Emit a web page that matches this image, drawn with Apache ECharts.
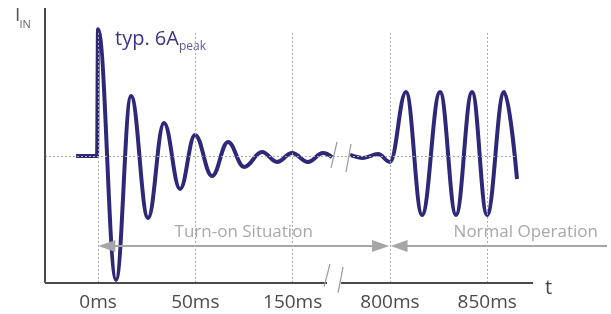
<!DOCTYPE html>
<html>
<head>
<meta charset="utf-8">
<script src="https://cdn.jsdelivr.net/npm/echarts@6/dist/echarts.min.js"></script>
<style>
  html, body { margin: 0; padding: 0; background: #fff; }
  #chart { width: 611px; height: 314px; }
</style>
</head>
<body>
<div id="chart"></div>
<script>
// x: one step per grid line (0ms, 50ms, 150ms, 800ms, 850ms), y: current in A
const tickPos = [0, 1, 2, 3, 4]
const tickLabels = ['0ms', '50ms', '150ms', '800ms', '850ms']

const turnOnTime = [-0.226, -0.01, 0, 0.185, 0.339, 0.514, 0.678, 0.843, 0.997, 1.172, 1.336, 1.501, 1.686, 1.840, 1.994, 2.158, 2.312, 2.405]
const turnOnCurrent = [0, 0, 6.0, -5.86, 2.84, -2.93, 1.56, -1.56, 0.99, -0.95, 0.66, -0.52, 0.19, -0.28, 0.14, -0.28, 0.14, -0.05]

const normalTime = [2.590, 2.723, 2.878, 3.001, 3.165, 3.330, 3.515, 3.679, 3.844, 3.998, 4.173, 4.306]
const normalCurrent = [0.05, -0.09, 0.09, -0.28, 3.03, -2.79, 3.03, -2.79, 3.03, -2.79, 3.03, -1.09]

const font = 'Open Sans'
const waveColor = '#2d2878'
const xMin = -0.545, xMax = 5.272
const axisY = -6          // where the time axis sits
const yMin = -7, yMax = 7 // a bit of room below the axis for the break marks

const zip = (xs, ys) => xs.map((x, i) => [x, ys[i]])
const seg = (a, b, extra) => [Object.assign({ coord: a }, extra || {}), { coord: b }]

const chart = echarts.init(document.getElementById('chart'), null, { renderer: 'canvas' })

const helper = (z, markLine) => ({
  type: 'line', data: [], silent: true, clip: false, z,
  markLine: Object.assign({ silent: true, animation: false, symbol: 'none', label: { show: false } }, markLine)
})

const option = {
  animation: false,
  textStyle: { fontFamily: font },
  grid: { left: 45, right: 0, top: 8, bottom: 10, outerBoundsMode: 'none' },
  xAxis: {
    type: 'value', min: xMin, max: xMax, offset: -21.14,
    axisLine: { show: false }, axisTick: { show: false }, splitLine: { show: false },
    axisLabel: {
      customValues: tickPos,
      formatter: (v) => tickLabels[tickPos.indexOf(v)],
      color: '#4a4a4a', fontSize: 19, margin: 10, fontFamily: font
    }
  },
  yAxis: {
    type: 'value', min: yMin, max: yMax,
    axisLine: { show: false }, axisTick: { show: false },
    axisLabel: { show: false }, splitLine: { show: false }
  },
  graphic: [
    { type: 'text', x: 15, y: 15.3, style: { text: 'I', font: '19px "Open Sans"', fill: '#555', verticalAlign: 'middle' } },
    { type: 'text', x: 19.5, y: 24.5, style: { text: 'IN', font: '11px "Open Sans"', fill: '#666', verticalAlign: 'middle' } },
    { type: 'text', x: 545, y: 288, style: { text: 't', font: '20px "Open Sans"', fill: '#444', verticalAlign: 'middle' } },
    { type: 'text', x: 115, y: 39, style: { text: 'typ. 6A', font: '20px "Open Sans"', fill: '#3b3389', verticalAlign: 'middle' } },
    { type: 'text', x: 179, y: 47, style: { text: 'peak', font: '12px "Open Sans"', fill: '#5d55a3', verticalAlign: 'middle' } }
  ],
  series: [
    // dotted guide lines
    helper(1, {
      lineStyle: { color: '#a8a8a8', width: 1, type: [2, 2] },
      data: tickPos.map(p => seg([p, axisY], [p, 5.86])).concat([seg([xMin, 0], [4.286, 0])])
    }),
    // axes, the time axis with a gap for the break
    helper(2, {
      lineStyle: { color: '#4a4a4a', width: 2, type: 'solid' },
      data: [
        seg([xMin, axisY], [xMin, yMax]),
        seg([xMin, axisY], [2.354, axisY]), seg([2.497, axisY], [4.471, axisY])
      ]
    }),
    // break slashes
    helper(2, {
      lineStyle: { color: '#9a9a9a', width: 1.2, type: 'solid' },
      data: [
        seg([2.384, -5.106], [2.323, -6.194]), seg([2.518, -5.248], [2.467, -6.478]),
        seg([2.456, 0.662], [2.395, -0.567]), seg([2.600, 0.567], [2.549, -0.757])
      ]
    }),
    // phase arrows
    helper(2, {
      symbolSize: [12, 17],
      lineStyle: { color: '#a6a6a6', width: 2, type: 'solid' },
      itemStyle: { color: '#a6a6a6' },
      data: [
        [{ coord: [0.090, -4.26], symbol: 'triangle',
           label: { show: true, position: 'middle', formatter: 'Turn-on Situation', color: '#a8a8a8', fontSize: 17, fontFamily: font, distance: 5 } },
         { coord: [2.904, -4.26], symbol: 'triangle' }],
        [{ coord: [3.094, -4.26], symbol: 'triangle',
           label: { show: true, position: 'insideEndTop', formatter: 'Normal Operation', color: '#a8a8a8', fontSize: 17, fontFamily: font, distance: [9, 5] } },
         { coord: [5.231, -4.26], symbol: 'none' }]
      ]
    }),
    {
      type: 'line', z: 3, clip: false, silent: true,
      smooth: 0.4, smoothMonotone: 'x', showSymbol: false,
      lineStyle: { color: waveColor, width: 4 },
      data: zip(turnOnTime, turnOnCurrent)
    },
    {
      type: 'line', z: 3, clip: false, silent: true,
      smooth: 0.4, smoothMonotone: 'x', showSymbol: false,
      lineStyle: { color: waveColor, width: 4 },
      data: zip(normalTime, normalCurrent)
    }
  ]
}
chart.setOption(option)
</script>
</body>
</html>
